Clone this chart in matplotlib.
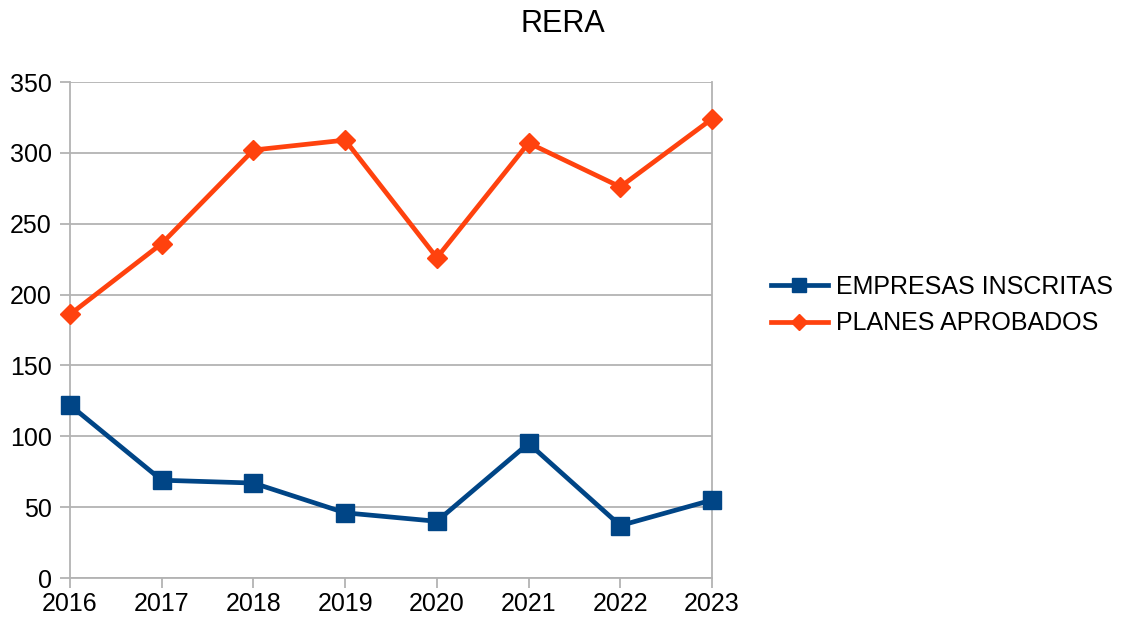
import matplotlib
matplotlib.use("Agg")
import matplotlib.pyplot as plt

years = ["2016", "2017", "2018", "2019", "2020", "2021", "2022", "2023"]
empresas = [122, 69, 67, 46, 40, 95, 37, 55]
planes = [186, 236, 302, 309, 226, 307, 276, 324]
yticks = [0, 50, 100, 150, 200, 250, 300, 350]

plt.rcParams['font.family'] = ['Liberation Sans', 'DejaVu Sans']

fig = plt.figure(figsize=(11.22, 6.23), dpi=100)
ax = fig.add_axes([70/1122, 45/623, (712-70)/1122, (578-82)/623])

x = list(range(len(years)))
ax.plot(x, empresas, color='#004586', lw=3.4, marker='s', markersize=13,
        label='EMPRESAS INSCRITAS', zorder=3, clip_on=False)
ax.plot(x, planes, color='#ff420e', lw=3.4, marker='D', markersize=10,
        label='PLANES APROBADOS', zorder=3, clip_on=False)

ax.set_xlim(0, len(years) - 1)
ax.set_ylim(0, 350)
ax.set_xticks(x)
ax.set_xticklabels(years)
ax.set_yticks(yticks)
ax.grid(axis='y', color='#b3b3b3', lw=1.3)
ax.set_axisbelow(True)
for s in ['left', 'bottom', 'right']:
    ax.spines[s].set_color('#b3b3b3')
    ax.spines[s].set_linewidth(1.3)
ax.spines['top'].set_visible(False)
ax.tick_params(axis='both', colors='#b3b3b3', labelcolor='#000000', labelsize=18,
               length=7, width=1.3)
ax.tick_params(axis='y', pad=6)
ax.tick_params(axis='x', pad=3)

fig.text(563/1122, 1 - 24/623, 'RERA', ha='center', va='center', fontsize=22)

leg = ax.legend(loc='center left', bbox_to_anchor=(748/1122, 1 - 305/623),
                bbox_transform=fig.transFigure, frameon=False, fontsize=18,
                handlelength=2.3, handletextpad=0.3, labelspacing=0.5,
                markerscale=0.8)

fig.savefig('out.png', dpi=100)
